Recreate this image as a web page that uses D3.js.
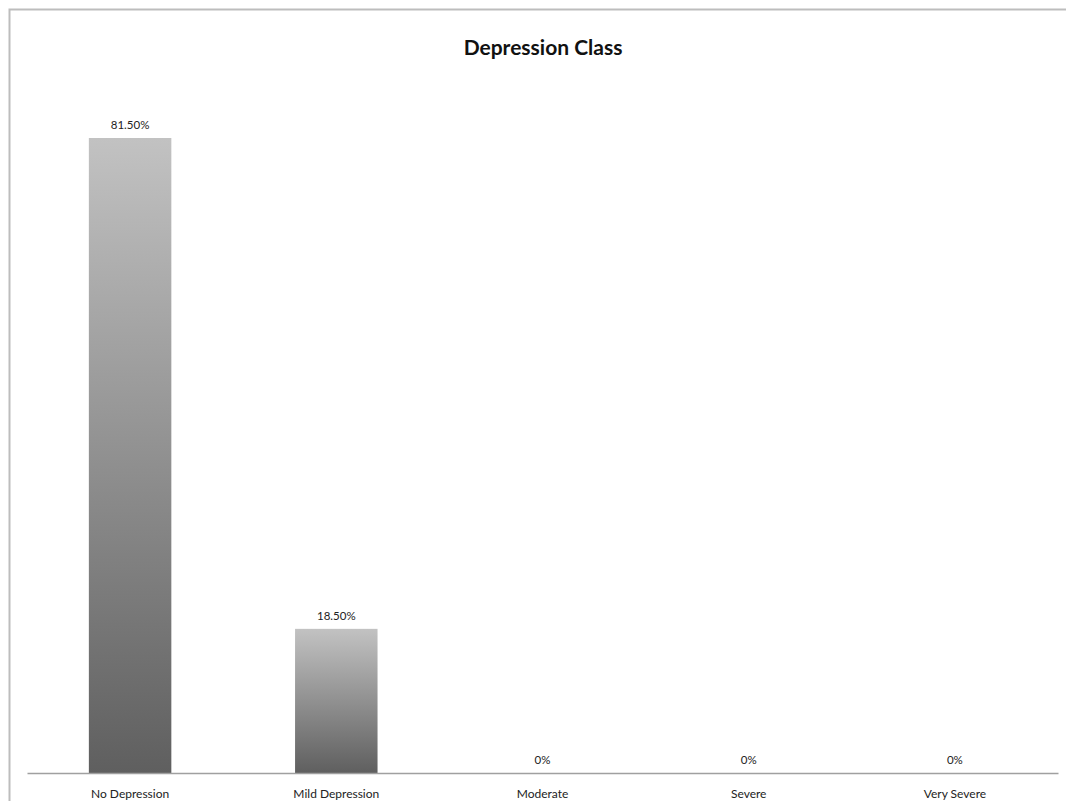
<!DOCTYPE html>
<html>
<head>
<meta charset="utf-8">
<script src="https://cdn.jsdelivr.net/npm/d3@7"></script>
<style>
  body { margin: 0; background: #fff; }
  svg { display: block; font-family: Lato, "Open Sans", sans-serif; }
</style>
</head>
<body>
<script>
var categories = ["No Depression", "Mild Depression", "Moderate", "Severe", "Very Severe"];
var values = [81.5, 18.5, 0, 0, 0];
var valueLabels = ["81.50%", "18.50%", "0%", "0%", "0%"];
var chartTitle = "Depression Class";

var width = 1066, height = 801;

var svg = d3.select("body").append("svg")
    .attr("width", width)
    .attr("height", height);

// frame (top + left edge visible)
svg.append("path")
    .attr("d", "M9.5,801 V9.5 H1066")
    .attr("fill", "none")
    .attr("stroke", "#bdbdbd")
    .attr("stroke-width", 2);

var defs = svg.append("defs");
var grad = defs.append("linearGradient")
    .attr("id", "barGrad")
    .attr("x1", 0).attr("y1", 0).attr("x2", 0).attr("y2", 1);
grad.append("stop").attr("offset", "0%").attr("stop-color", "#c2c2c2");
grad.append("stop").attr("offset", "100%").attr("stop-color", "#5f5f5f");

var x = d3.scaleBand()
    .domain(categories)
    .range([27, 1058])
    .paddingInner(0.6)
    .paddingOuter(0.3);

var y = d3.scaleLinear()
    .domain([0, 81.5])
    .range([773, 138]);

svg.append("text")
    .attr("x", 543)
    .attr("y", 55)
    .attr("text-anchor", "middle")
    .style("font-size", "21px")
    .style("font-weight", "bold")
    .attr("fill", "#111")
    .text(chartTitle);

svg.selectAll("rect.bar")
    .data(values)
    .enter().append("rect")
    .attr("class", "bar")
    .attr("x", function (d, i) { return x(categories[i]); })
    .attr("y", function (d) { return y(d); })
    .attr("width", x.bandwidth())
    .attr("height", function (d) { return y(0) - y(d); })
    .attr("fill", "url(#barGrad)");

svg.selectAll("text.val")
    .data(values)
    .enter().append("text")
    .attr("class", "val")
    .attr("x", function (d, i) { return x(categories[i]) + x.bandwidth() / 2; })
    .attr("y", function (d) { return y(d) - 9; })
    .attr("text-anchor", "middle")
    .style("font-size", "11.5px")
    .attr("fill", "#222")
    .text(function (d, i) { return valueLabels[i]; });

var axis = svg.append("g")
    .attr("transform", "translate(0," + y(0) + ")")
    .call(d3.axisBottom(x).tickSize(0).tickPadding(16));
axis.select(".domain").attr("stroke", "#a0a0a0").attr("stroke-width", 1.5);
axis.selectAll("text")
    .style("font-size", "12px")
    .style("font-family", "Lato, 'Open Sans', sans-serif")
    .attr("fill", "#222");
</script>
</body>
</html>
